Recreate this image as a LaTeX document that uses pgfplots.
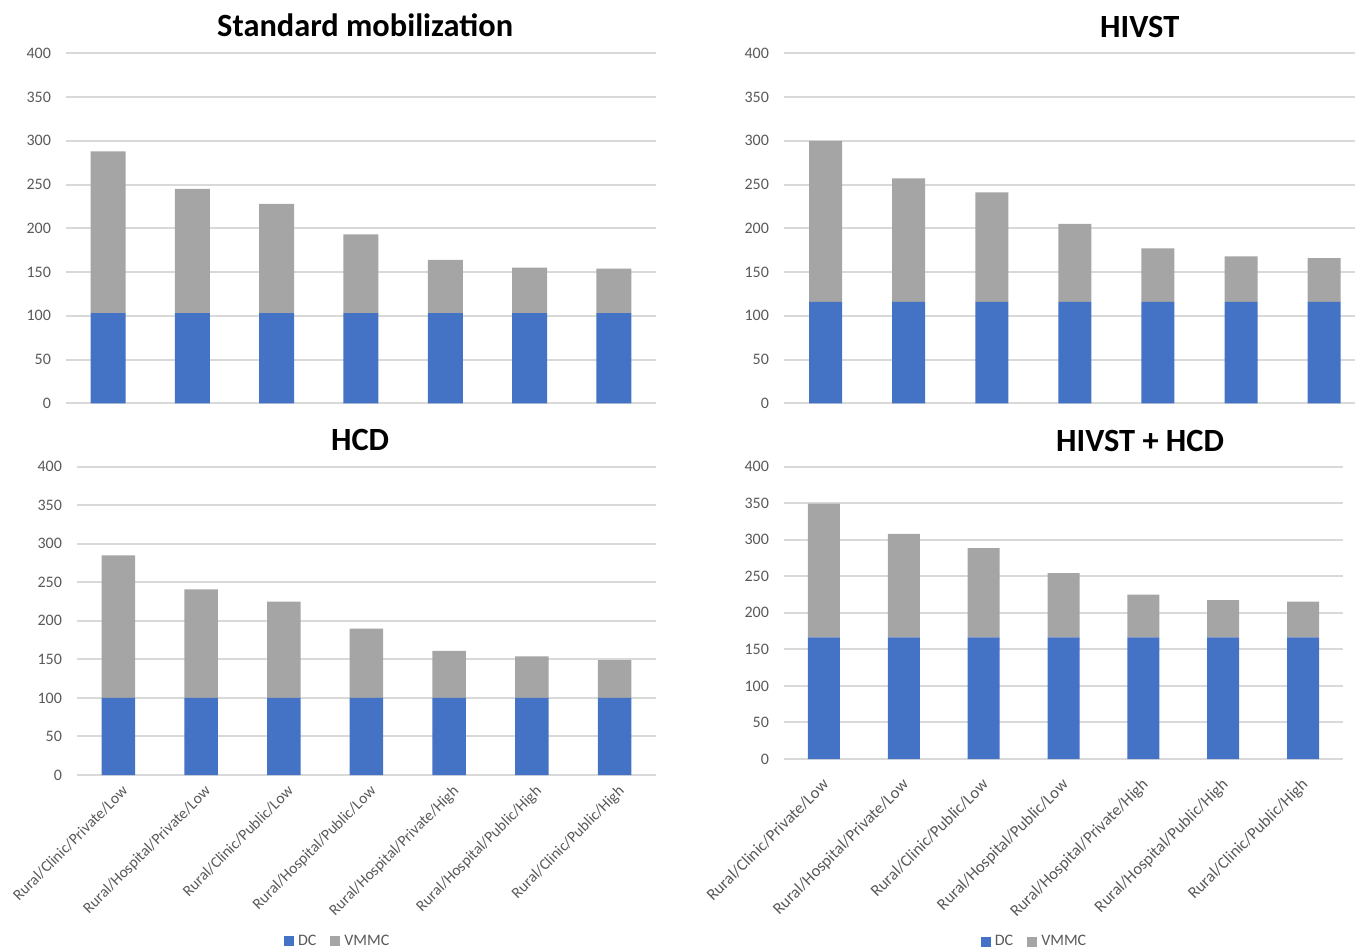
\documentclass[border=0pt]{standalone}
\usepackage{pgfplots}
\usepackage{pgfplotstable}
\pgfplotsset{compat=1.18}
\usepackage{fontspec}
\setmainfont{Carlito}

\definecolor{dcblue}{HTML}{4472C4}
\definecolor{vgray}{HTML}{A5A5A5}
\definecolor{gridc}{HTML}{D9D9D9}
\definecolor{labc}{HTML}{595959}

% x, DC, VMMC (stacked on DC)
\pgfplotstableread{
x dc vm
0 103 185
1 103 142
2 103 125
3 103 90
4 103 61
5 103 52
6 103 51
}\stdmob
\pgfplotstableread{
x dc vm
0 116 184
1 116 141
2 116 125
3 116 89
4 116 61
5 116 52
6 116 50
}\hivst
\pgfplotstableread{
x dc vm
0 100 185
1 100 141
2 100 125
3 100 90
4 100 61
5 100 54
6 100 49
}\hcd
\pgfplotstableread{
x dc vm
0 166.5 183
1 166.5 141.5
2 166.5 122
3 166.5 88
4 166.5 58.5
5 166.5 51
6 166.5 49
}\both

\pgfplotsset{
  panel/.style={
    scale only axis,
    anchor=south west,
    ybar stacked,
    ymin=0, ymax=400, ytick={0,50,...,400},
    xmin=-0.5, xmax=6.5,
    axis line style={draw=none},
    major tick length=0pt,
    ymajorgrids,
    major grid style={gridc, line width=1pt},
    yticklabel style={font=\fontsize{8}{9}\selectfont, text=labc, xshift=-4pt},
    /pgf/number format/assume math mode=true,
    every axis title shift=0pt,
    title style={font=\bfseries\fontsize{16.2}{18}\selectfont, anchor=center},
    legend image code/.code={\fill[##1] (0pt,-2.5pt) rectangle (5pt,2.5pt);},
    legend style={draw=none, fill=none, legend columns=2,
      font=\fontsize{8}{9}\selectfont, text=labc,
      /tikz/every even column/.append style={column sep=5pt}},
  },
  cats/.style={
    xtick=data,
    xticklabels={Rural/Clinic/Private/Low, Rural/Hospital/Private/Low,
      Rural/Clinic/Public/Low, Rural/Hospital/Public/Low,
      Rural/Hospital/Private/High, Rural/Hospital/Public/High,
      Rural/Clinic/Public/High},
  },
  nocats/.style={xtick=\empty},
}

\begin{document}
\begin{tikzpicture}
\useasboundingbox (0,0) rectangle (677.5pt,474.5pt);

% Standard mobilization
\begin{axis}[panel, nocats, at={(33pt,272.85pt)}, width=295pt, height=175pt,
  bar width=17.5pt,
  title={Standard mobilization}, title style={at={(0.507,1.081)}}]
\addplot[fill=dcblue, draw=none] table[x=x, y=dc] {\stdmob};
\addplot[fill=vgray, draw=none] table[x=x, y=vm] {\stdmob};
\end{axis}

% HIVST
\begin{axis}[panel, nocats, at={(392pt,272.85pt)}, width=285.5pt, height=175pt,
  xmax=6.371, bar width=16.5pt,
  title={HIVST}, title style={at={(0.623,1.075)}}]
\addplot[fill=dcblue, draw=none] table[x=x, y=dc] {\hivst};
\addplot[fill=vgray, draw=none] table[x=x, y=vm] {\hivst};
\end{axis}

% HCD
\begin{axis}[panel, cats, at={(38.5pt,87pt)}, width=289.5pt, height=154.15pt,
  bar width=16.75pt,
  xticklabel style={xshift=1.3pt, yshift=-3pt, rotate=45, anchor=north east,
    inner sep=1pt, font=\fontsize{7.8}{9}\selectfont, text=labc},
  title={HCD}, title style={at={(0.489,1.087)}},
  legend style={at={(0.452,-0.54)}, anchor=center}]
\addplot[fill=dcblue, draw=none] table[x=x, y=dc] {\hcd};
\addplot[fill=vgray, draw=none] table[x=x, y=vm] {\hcd};
\legend{DC, VMMC}
\end{axis}

% HIVST + HCD
\begin{axis}[panel, cats, at={(392pt,95pt)}, width=279.5pt, height=146.15pt,
  bar width=16pt,
  xticklabel style={xshift=-1.3pt, yshift=-7.5pt, rotate=45, anchor=north east,
    inner sep=1pt, font=\fontsize{8.3}{9}\selectfont, text=labc},
  title={HIVST + HCD}, title style={at={(0.637,1.088)}},
  legend style={at={(0.45,-0.625)}, anchor=center}]
\addplot[fill=dcblue, draw=none] table[x=x, y=dc] {\both};
\addplot[fill=vgray, draw=none] table[x=x, y=vm] {\both};
\legend{DC, VMMC}
\end{axis}
\end{tikzpicture}
\end{document}
